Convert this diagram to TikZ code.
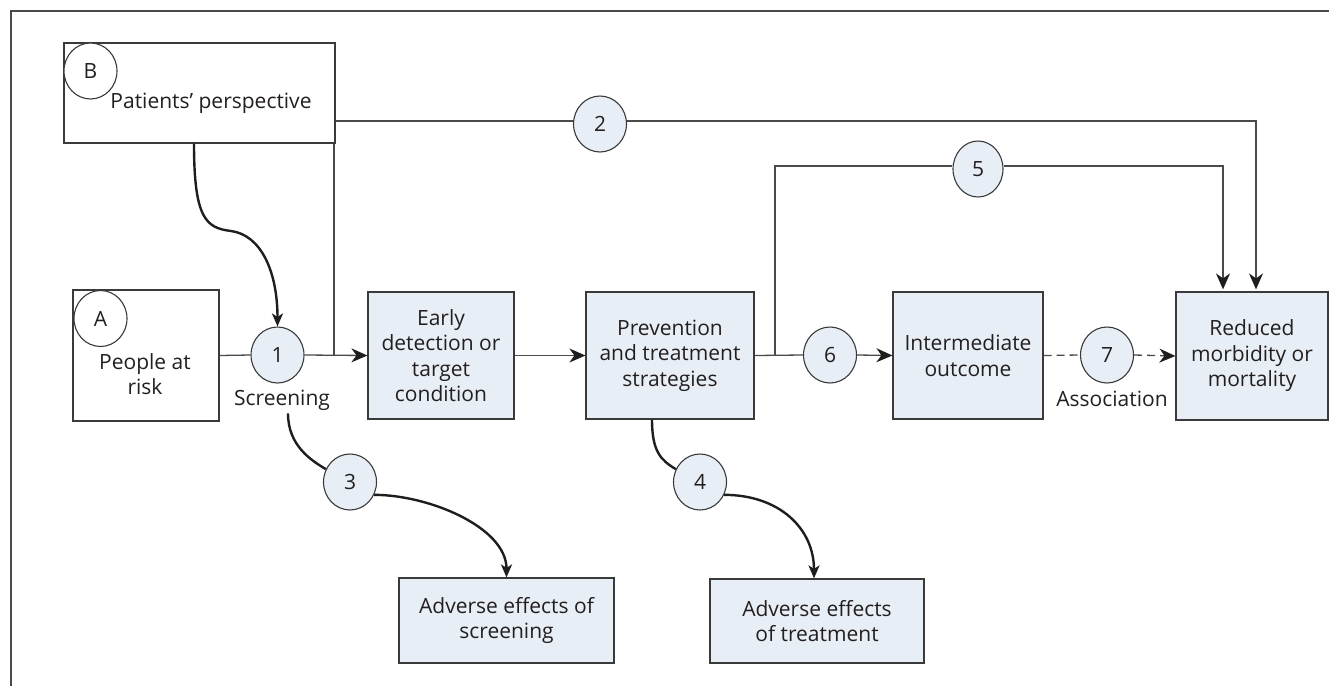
\documentclass[tikz,border=0pt]{standalone}
\usepackage{fontspec}
\setmainfont{Open Sans}
\usetikzlibrary{arrows.meta,shapes.geometric}
\definecolor{boxfill}{HTML}{E8EEF5}
\definecolor{linegray}{HTML}{4A4A4A}
\definecolor{edgegray}{HTML}{3A3A3A}
\definecolor{txt}{HTML}{231F20}
\definecolor{tipcol}{HTML}{1E1E1E}
\begin{document}
\begin{tikzpicture}[x=1pt,y=-1pt,
  font=\fontsize{21}{25.5}\selectfont, text=txt,
  plainbox/.style={draw=edgegray, line width=1.2pt, fill=white, inner sep=0pt},
  bluebox/.style={draw=edgegray, line width=1.2pt, fill=boxfill, inner sep=0pt, align=center},
  numcirc/.style={ellipse, draw=edgegray, line width=1.1pt, fill=boxfill, minimum width=53pt, minimum height=56pt, inner sep=0pt},
  letcirc/.style={ellipse, draw=edgegray, line width=1.1pt, fill=white, minimum width=53pt, minimum height=56pt, inner sep=0pt},
  conn/.style={draw=linegray, line width=1.3pt},
  arr/.style={-{Stealth[length=16pt,width=14pt,inset=5pt,color=tipcol]}},
  curve/.style={draw=tipcol, line width=2.4pt},
  carr/.style={-{Stealth[length=13pt,width=11pt,inset=3.5pt,color=tipcol]}},
  lbl/.style={align=center, inner sep=0pt},
]
\useasboundingbox (0,0) rectangle (1340,696);
% outer frame (top and left)
\draw[conn] (1329,11) -- (11,11) -- (11,686);

% boxes
\node[plainbox, minimum width=271pt, minimum height=100pt] (Bbox) at (199.5,93) {};
\node[letcirc] (Bc) at (90.5,71) {B};
\node[lbl] (Bt) at (211,103) {Patients’ perspective};
\node[plainbox, minimum width=146pt, minimum height=131pt] (Abox) at (146,355.5) {};
\node[letcirc] (Ac) at (100.5,318.5) {A};
\node[lbl] (At) at (145,374) {People at\\risk};
\node[bluebox, minimum width=146pt, minimum height=127pt] (early) at (441,355.5) {Early\\detection or\\target\\condition};
\node[bluebox, minimum width=168pt, minimum height=127pt] (prev) at (670,355.5) {Prevention\\and treatment\\strategies};
\node[bluebox, minimum width=150pt, minimum height=127pt] (inter) at (968,355.5) {Intermediate\\outcome};
\node[bluebox, minimum width=152pt, minimum height=128pt] (red) at (1252,356) {Reduced\\morbidity or\\mortality};
\node[bluebox, minimum width=215pt, minimum height=85pt] (aes) at (506.5,620.5) {Adverse effects of\\screening};
\node[bluebox, minimum width=214pt, minimum height=84pt] (aet) at (817,621) {Adverse effects\\of treatment};

% numbered circles
\node[numcirc] (c1) at (277.5,355) {1};
\node[numcirc] (c2) at (600,124) {2};
\node[numcirc] (c3) at (350,482) {3};
\node[numcirc] (c4) at (700,482) {4};
\node[numcirc, minimum width=50pt] (c5) at (978,169) {5};
\node[numcirc] (c6) at (830,355) {6};
\node[numcirc] (c7) at (1107,355) {7};

% labels
\node[lbl] (scr) at (282,400) {Screening};
\node[lbl] (assoc) at (1112,399) {Association};

% junctions
\coordinate (j1) at (334,355);
\coordinate (j5) at (775,355);
\coordinate (k2) at (1256,121);
\coordinate (k5) at (1223,166);
\coordinate (bmid) at (231,231);

% main line
\draw[conn] (Abox.east) -- (c1.west);
\draw[conn,arr] (c1.east) -- (early.west);
\draw[conn,arr] (early.east) -- (prev.west);
\draw[conn] (prev.east) -- (c6.west);
\draw[conn,arr] (c6.east) -- (inter.west);
\draw[conn,dash pattern=on 8pt off 5pt] (inter.east) -- (c7.west);
\draw[conn,arr,dash pattern=on 8pt off 5pt] (c7.east) -- (red.west);

% path 2
\draw[conn] (j1) -- (j1 |- Bbox.south);
\draw[conn] (Bbox.east |- k2) -- (c2.west |- k2);
\draw[conn,arr,shorten >=2pt] (c2.east |- k2) -- (k2) -- (red.north -| k2);

% path 5
\draw[conn] (j5) -- (j5 |- k5) -- (c5.west |- k5);
\draw[conn,arr,shorten >=2pt] (c5.east |- k5) -- (k5) -- (red.north -| k5);

% curves
\draw[curve,carr] ([xshift=-5.5pt]Bbox.south) .. controls +(0,75) and +(-25,-3) .. (bmid)
      .. controls +(30,4) and +(0,-55) .. (c1.north);
\draw[curve] ([xshift=6pt,yshift=-3pt]scr.south) .. controls +(0,32) and +(-15,-9) .. (c3.152);
\draw[curve,carr] (c3.-28) .. controls +(55,0) and +(0,-50) .. (aes.north);
\draw[curve] ([xshift=-18pt]prev.south) .. controls +(0,32) and +(-15,-9) .. (c4.152);
\draw[curve,carr] (c4.-28) .. controls +(55,0) and +(0,-50) .. ([xshift=-3pt]aet.north);
\end{tikzpicture}
\end{document}
